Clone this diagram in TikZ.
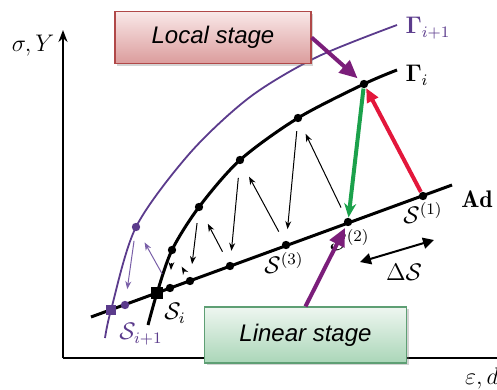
\documentclass[tikz,border=0pt]{standalone}
\usepackage{fontspec}
\setsansfont{Liberation Sans}
\usepackage{amsmath}
\usetikzlibrary{arrows.meta,shadows}

\definecolor{curvepurple}{HTML}{5B3B8C}
\definecolor{thinpurple}{HTML}{7A60A8}
\definecolor{darkpurple}{HTML}{7B1E7A}
\definecolor{arrred}{HTML}{E3173B}
\definecolor{arrgreen}{HTML}{1BA14B}
\definecolor{localedge}{HTML}{B04848}
\definecolor{localtop}{HTML}{F9E8E8}
\definecolor{localbot}{HTML}{DB9C9C}
\definecolor{linearedge}{HTML}{5E9F74}
\definecolor{lineartop}{HTML}{EEF6F0}
\definecolor{linearbot}{HTML}{AAD6B8}

\tikzset{
  dot/.style={circle,fill,inner sep=0pt,minimum size=4.2pt},
  sqdot/.style={rectangle,fill,inner sep=0pt,minimum size=6pt},
  thinarr/.style={line width=0.5pt,-{Stealth[length=4pt,width=3pt]}},
  fatarr/.style={line width=2pt,-{Triangle[length=7pt,width=6pt]}},
  stagebox/.style={draw,line width=0.6pt,minimum width=98pt,minimum height=26pt,
    font=\sffamily\itshape\fontsize{12}{14}\selectfont,
    drop shadow={shadow xshift=1.2pt,shadow yshift=-1.2pt,opacity=0.35}},
  lab/.style={inner sep=0pt,font=\large}
}

\begin{document}
\begin{tikzpicture}[x=0.5pt,y=-0.5pt]
\useasboundingbox (0,0) rectangle (497,390);

% axes
\coordinate (O) at (63,358);
\coordinate (ytop) at (63,30);
\coordinate (xend) at (497,358);
\draw[line width=1pt,-{Stealth[length=6pt,width=4.5pt]}] (O) -- (ytop);
\draw[line width=1pt] (O) -- (xend);
\node[lab] (ylab) at (33,46) {$\sigma,Y$};
\node[lab] (xlab) at (482,378) {$\varepsilon,d$};

% curves Gamma_{i+1}, Gamma_i and Ad
\draw[curvepurple,line width=0.9pt] plot[smooth] coordinates
  {(105,338) (111,310) (136,227) (190,153) (250,97) (317,57) (397,25)};
\draw[line width=1.5pt] plot[smooth] coordinates
  {(148,325) (157,293) (172,250) (199,207) (240,160) (298,118) (364,84) (397,70)};
\coordinate (ad0) at (91,317);
\coordinate (ad1) at (452,185);
\draw[line width=1.5pt] (ad0) -- (ad1);

% points on Gamma_i
\node[dot] (g1) at (172,250) {};
\node[dot] (g2) at (199,207) {};
\node[dot] (g3) at (240,160) {};
\node[dot] (g4) at (298,118) {};
\node[dot] (g5) at (364,84) {};
% points on Ad
\node[dot] (a1) at (423,196) {};
\node[dot] (a2) at (348,222) {};
\node[dot] (a3) at (286,245) {};
\node[dot] (a4) at (230,266) {};
\node[dot] (a5) at (190,281) {};
\node[dot] (a6) at (170,288) {};
\node[sqdot] (si) at (157,293) {};
% points of the next step
\node[dot,curvepurple] (pg) at (136,227) {};
\node[dot,curvepurple] (pa) at (125,305) {};
\node[sqdot,curvepurple,minimum size=5pt] (sn) at (111,310) {};

% labels
\node[lab] (gilab) at (417,75) {$\boldsymbol{\Gamma}_i$};
\node[lab,curvepurple] (gnlab) at (428,28) {$\boldsymbol{\Gamma}_{i+1}$};
\node[lab] (adlab) at (477,199) {$\mathbf{Ad}$};
\node[lab] (s1lab) at (423,213) {$\mathcal{S}^{(1)}$};
\node[lab] (s2lab) at (350,240) {$\mathcal{S}^{(2)}$};
\node[lab] (s3lab) at (284,263) {$\mathcal{S}^{(3)}$};
\node[lab] (silab) at (175,313) {$\mathcal{S}_i$};
\node[lab,curvepurple] (snlab) at (141,334) {$\mathcal{S}_{i+1}$};

% iterations
\draw[fatarr,arrred] (a1) -- (g5);
\draw[fatarr,arrgreen,-{Stealth[length=7pt,width=6pt]}] (g5) -- (a2);
\draw[thinarr,shorten <=5.7pt,shorten >=6.5pt] (a2) -- (g4);
\draw[thinarr,shorten <=4.3pt,shorten >=5.7pt] (g4) -- (a3);
\draw[thinarr,shorten <=5.3pt,shorten >=7.2pt] (a3) -- (g3);
\draw[thinarr,shorten <=6.7pt,shorten >=5.3pt] (g3) -- (a4);
\draw[thinarr,shorten <=5.8pt,shorten >=7.2pt] (a4) -- (g2);
\draw[thinarr,shorten <=5.8pt,shorten >=6.2pt] (g2) -- (a5);
\draw[thinarr,shorten <=3.3pt,shorten >=7.3pt] (a5) -- (g1);
\draw[thinarr,shorten <=4.3pt,shorten >=6.7pt] (g1) -- (a6);
\draw[thinarr,thinpurple,shorten <=4.7pt,shorten >=5.7pt] (pg) -- (pa);
\draw[thinarr,thinpurple,shorten <=5.7pt,shorten >=6.5pt] (a6) -- (pg);

% step size
\coordinate (ds0) at (360,262);
\coordinate (ds1) at (434,240);
\draw[line width=1pt,{Triangle[length=5.5pt,width=5.5pt]}-{Triangle[length=5.5pt,width=5.5pt]}] (ds0) -- (ds1);
\node[lab] (dslab) at (404,272) {$\Delta\mathcal{S}$};

% stage boxes
\node[stagebox,draw=localedge,top color=localtop,bottom color=localbot] (local) at (213,37.5) {Local stage};
\node[stagebox,draw=linearedge,top color=lineartop,bottom color=linearbot,minimum width=101pt,minimum height=28pt] (linear) at (305.5,335) {Linear stage};
\draw[fatarr,darkpurple,-{Triangle[length=9pt,width=8pt]},shorten >=2pt] (local.east) -- (g5);
\draw[fatarr,darkpurple,-{Triangle[length=9pt,width=8pt]},shorten >=1pt] (linear.north) -- (a2);
\end{tikzpicture}
\end{document}
